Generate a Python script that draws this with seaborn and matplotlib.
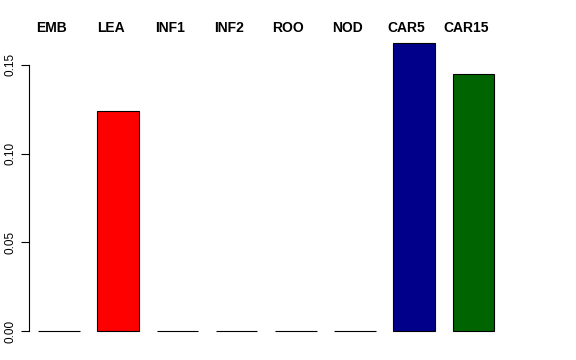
import matplotlib
matplotlib.use("Agg")
import matplotlib.pyplot as plt
import seaborn as sns
import pandas as pd

categories = ["EMB", "LEA", "INF1", "INF2", "ROO", "NOD", "CAR5", "CAR15"]
values = [0.0, 0.124, 0.0, 0.0, 0.0, 0.0, 0.1623, 0.1449]
colors = ["white", "#FF0000", "white", "white", "white", "white", "#00008B", "#006400"]
yticks = [0.0, 0.05, 0.10, 0.15]
ytick_labels = ["0.00", "0.05", "0.10", "0.15"]

sns.set_style("white")
plt.rcParams["font.family"] = ["Liberation Sans", "DejaVu Sans"]
plt.rcParams["text.color"] = "black"
plt.rcParams["ytick.color"] = "black"
plt.rcParams["ytick.labelcolor"] = "black"

W, H = 576, 360
fig = plt.figure(figsize=(W / 100, H / 100), dpi=100)

# pixel layout
ax_left_px, ax_right_px = 29, 560
ax_top_px, ax_bot_px = 30, 345
ax = fig.add_axes([ax_left_px / W, 1 - ax_bot_px / H,
                   (ax_right_px - ax_left_px) / W, (ax_bot_px - ax_top_px) / H])

df = pd.DataFrame({"cat": categories, "val": values})
sns.barplot(data=df, x="cat", y="val", hue="cat", palette=colors, legend=False,
            width=0.7, edgecolor="black", linewidth=0.8, saturation=1,
            ax=ax, order=categories)

pitch = 59.2
c0 = 59.0
ax.set_xlim(-(c0 - ax_left_px) / pitch, (ax_right_px - c0) / pitch)
per_px = 0.05 / 88.7
ax.set_ylim(-(ax_bot_px - 331) * per_px, (331 - ax_top_px) * per_px)

for s in ["top", "right", "bottom"]:
    ax.spines[s].set_visible(False)
ax.spines["left"].set_bounds(0, 0.15)
ax.spines["left"].set_color("black")
ax.spines["left"].set_linewidth(0.8)

ax.set_yticks(yticks)
ax.set_yticklabels(ytick_labels, rotation=90, va="center", fontsize=8.5, color="black")
ax.tick_params(axis="y", left=True, length=6, width=0.8, pad=3, color="black")
ax.set_xticks([])
ax.set_xlabel("")
ax.set_ylabel("")

label_y = (331 - 28) * per_px
for i, c in enumerate(categories):
    ax.text(i - 0.13, label_y, c, ha="center", va="center", fontsize=10,
            fontweight="bold", color="black", clip_on=False)

fig.savefig("out.png", dpi=100)
